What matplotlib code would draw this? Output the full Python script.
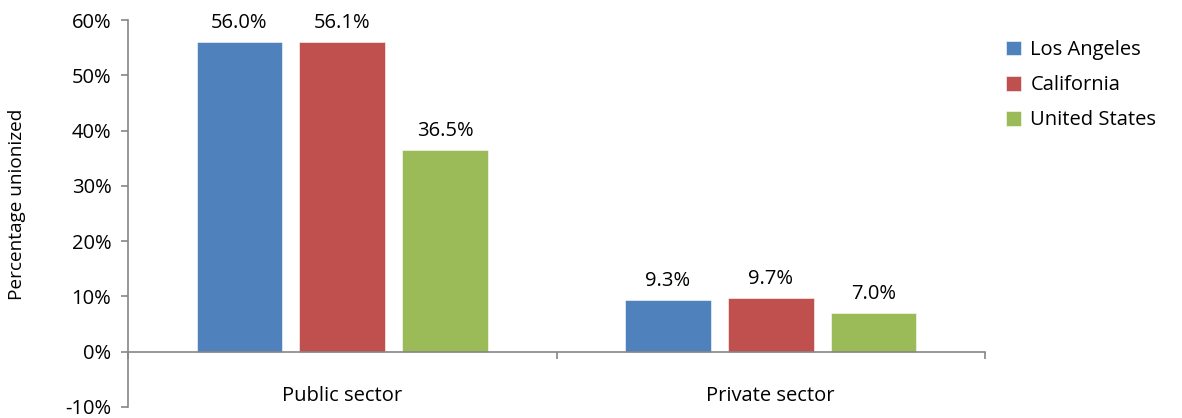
import matplotlib.pyplot as plt
import numpy as np

plt.rcParams['font.family'] = ['Open Sans', 'DejaVu Sans']

# data
sectors = ['Public sector', 'Private sector']
regions = ['Los Angeles', 'California', 'United States']
values = {
    'Los Angeles': [56.0, 9.3],
    'California': [56.1, 9.7],
    'United States': [36.5, 7.0],
}
colors = ['#4F81BD', '#C0504D', '#9BBB59']
yticks = [-10, 0, 10, 20, 30, 40, 50, 60]

grey = '#868686'
fs = 14.5

fig = plt.figure(figsize=(11.82, 4.18), dpi=100)
ax = fig.add_axes([128 / 1182, 11 / 418, 857 / 1182, 387 / 418])

x = np.arange(len(sectors))
width = 0.2
step = 0.24
for i, (name, c) in enumerate(zip(regions, colors)):
    pos = x + (i - 1) * step
    bars = ax.bar(pos, values[name], width, color=c, label=name,
                  edgecolor='white', linewidth=0.4)
    for b, v in zip(bars, values[name]):
        ax.text(b.get_x() + b.get_width() / 2, v + 1.6, f'{v:.1f}%',
                ha='center', va='bottom', fontsize=fs)

ax.set_xlim(-0.5, 1.5)
ax.set_ylim(-10, 60)
ax.set_yticks(yticks)
ax.set_yticklabels([f'{t}%' for t in yticks])
ax.set_ylabel('Percentage unionized', fontsize=13.7)
ax.yaxis.set_label_coords(-0.119, 0.525)

# category labels below the zero line, boundary ticks on the zero line
ax.set_xticks(x)
ax.set_xticklabels(sectors)
ax.set_xticks([-0.5, 0.5, 1.5], minor=True)
ax.tick_params(axis='x', which='major', length=0, pad=25, labelsize=fs)
ax.tick_params(axis='x', which='minor', length=5, color=grey, width=1.2)
ax.tick_params(axis='y', length=5, color=grey, width=1.2, labelsize=fs, pad=7)

ax.spines['bottom'].set_position(('data', 0))
ax.spines['bottom'].set_color(grey)
ax.spines['bottom'].set_linewidth(1.2)
ax.spines['left'].set_color(grey)
ax.spines['left'].set_linewidth(1.2)
ax.spines['top'].set_visible(False)
ax.spines['right'].set_visible(False)

ax.legend(loc='upper left', bbox_to_anchor=(988 / 1182, 1 - 22 / 418),
          bbox_transform=fig.transFigure, frameon=False, fontsize=fs,
          handlelength=0.75, handleheight=0.75, handletextpad=0.45,
          labelspacing=0.75)

fig.savefig('out.png', dpi=100)
